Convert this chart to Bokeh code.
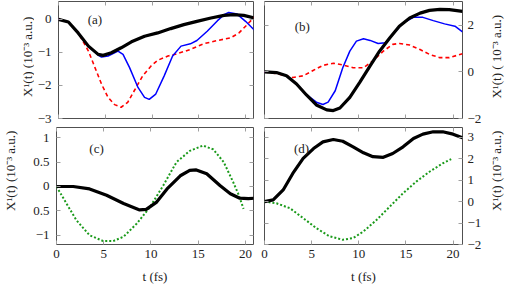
import math
from bokeh.plotting import figure
from bokeh.layouts import column, row
from bokeh.models import LinearAxis, Range1d, Label, FixedTicker
from bokeh.embed import file_html
from bokeh.resources import INLINE

# ---------------- data ----------------
# panel (a)
a_black_t = [0, 1.06, 2.1, 3.2, 4.24, 4.77, 5.65, 6.7, 7.8, 9.2, 10.6, 12.0, 13.4, 14.8, 16.3, 17.7, 18.7, 19.8, 21.0]
a_black_y = [0, -0.08, -0.41, -0.81, -1.06, -1.09, -1.01, -0.86, -0.68, -0.51, -0.41, -0.28, -0.16, -0.06, 0.04, 0.12, 0.14, 0.12, 0.04]
a_blue_t = [0, 1.06, 2.1, 3.2, 4.24, 4.6, 5.3, 6.36, 6.9, 7.6, 8.5, 9.2, 9.7, 10.4, 11.3, 12.2, 13.1, 14.1, 14.8, 15.9, 17.0, 17.7, 18.2, 19.1, 20.0, 21.0]
a_blue_y = [0, -0.08, -0.41, -0.82, -1.08, -1.14, -1.11, -0.96, -1.06, -1.46, -2.06, -2.36, -2.42, -2.26, -1.71, -1.11, -0.81, -0.74, -0.64, -0.36, -0.04, 0.14, 0.21, 0.16, -0.06, -0.34]
a_red_t = [0, 1.06, 2.1, 3.2, 3.9, 4.6, 5.3, 6.0, 6.7, 7.4, 8.1, 9.0, 9.9, 10.6, 11.7, 12.7, 14.1, 15.5, 17.0, 18.4, 19.3, 20.1, 21.0]
a_red_y = [0, -0.08, -0.40, -0.96, -1.46, -1.96, -2.36, -2.58, -2.66, -2.51, -2.16, -1.71, -1.41, -1.24, -1.11, -1.04, -0.91, -0.74, -0.64, -0.56, -0.41, -0.18, 0.09]

# panel (b)
b_black_t = [0, 1.27, 2.33, 3.4, 4.45, 5.5, 6.6, 7.3, 8.0, 9.05, 10.1, 11.2, 12.2, 13.3, 14.3, 15.4, 16.5, 17.5, 18.6, 19.6, 21.0]
b_black_y = [0, -0.03, -0.17, -0.52, -0.99, -1.42, -1.63, -1.66, -1.55, -1.09, -0.45, 0.26, 0.89, 1.46, 1.96, 2.31, 2.52, 2.64, 2.68, 2.67, 2.60]
b_blue_t = [0, 1.27, 2.33, 3.4, 4.45, 5.5, 6.2, 6.75, 7.5, 8.3, 9.05, 9.75, 10.5, 11.2, 12.05, 12.8, 13.6, 14.7, 15.8, 16.8, 17.9, 19.1, 20.2, 21.0]
b_blue_y = [0, -0.03, -0.17, -0.52, -0.97, -1.30, -1.40, -1.30, -0.81, 0.18, 0.89, 1.32, 1.42, 1.35, 1.22, 1.25, 1.60, 2.10, 2.34, 2.34, 2.20, 2.06, 1.96, 1.72]
b_red_t = [0, 1.6, 3.0, 4.1, 5.2, 6.2, 7.3, 8.3, 9.4, 10.5, 11.5, 12.6, 13.6, 14.3, 15.4, 16.5, 17.5, 18.6, 19.6, 21.0]
b_red_y = [0, -0.10, -0.24, -0.17, 0.07, 0.28, 0.37, 0.30, 0.18, 0.18, 0.47, 0.89, 1.18, 1.22, 1.15, 0.96, 0.75, 0.61, 0.61, 0.78]

# panel (c)
c_black_t = [0, 1.77, 3.5, 5.3, 7.1, 8.8, 9.5, 10.6, 11.7, 13.1, 14.1, 14.8, 15.9, 17.3, 18.4, 19.4, 20.3, 21.0]
c_black_y = [0, 0, -0.05, -0.18, -0.35, -0.48, -0.47, -0.32, -0.05, 0.22, 0.33, 0.34, 0.26, 0.02, -0.15, -0.24, -0.25, -0.24]
c_green_t = [0, 1.06, 2.1, 3.5, 4.95, 6.0, 7.1, 8.5, 9.9, 11.3, 12.7, 14.1, 15.5, 16.6, 17.7, 18.7, 19.3, 19.8]
c_green_y = [0, -0.35, -0.69, -1.0, -1.12, -1.12, -1.03, -0.76, -0.42, 0.02, 0.50, 0.73, 0.84, 0.76, 0.50, 0.09, -0.18, -0.46]

# panel (d)
d_black_t = [0, 0.92, 1.98, 3.0, 4.1, 5.2, 6.2, 7.3, 8.3, 9.4, 10.5, 11.5, 12.6, 13.6, 14.7, 15.8, 16.8, 17.9, 18.9, 20.0, 21.0]
d_black_y = [0, 0.08, 0.54, 1.31, 2.01, 2.47, 2.78, 2.89, 2.81, 2.55, 2.27, 2.09, 2.06, 2.24, 2.55, 2.94, 3.14, 3.25, 3.25, 3.14, 2.97]
d_green_t = [0, 1.27, 2.7, 4.1, 5.5, 6.9, 8.3, 9.4, 10.5, 11.9, 13.3, 14.7, 16.1, 17.5, 18.9, 19.8]
d_green_y = [0, -0.08, -0.31, -0.77, -1.24, -1.62, -1.78, -1.70, -1.39, -0.85, -0.23, 0.39, 0.93, 1.39, 1.78, 1.98]

x_ticks = [0, 5, 10, 15, 20]
a_yticks = [0, -1, -2, -3]
b_yticks = [-2, 0, 2]
c_yticks = [-1.0, -0.5, 0.0, 0.5, 1.0]
d_yticks = [-2, -1, 0, 1, 2, 3]
c_overrides = {-0.5: "0.5"}

ylabel = "X¹(t) (10⁻³ a.u.)"
ylabel_b = "X¹(t) ( 10⁻³ a.u.)"
xlabel = "t (fs)"

FONT = "Liberation Serif"
TICK_FS = "13px"
LAB_FS = "13px"
FRAME = "#505050"
TICKC = "#a0a0a0"
TXT = "#222222"

H_TOP, H_BOT = 126, 161


def style_axis(ax, ticks, show_labels, overrides=None):
    ax.ticker = FixedTicker(ticks=ticks)
    ax.major_tick_in = 4
    ax.major_tick_out = 0
    ax.minor_tick_in = 0
    ax.minor_tick_out = 0
    ax.axis_line_color = None
    ax.major_tick_line_color = TICKC
    ax.major_label_text_font = FONT
    ax.major_label_text_font_size = TICK_FS
    ax.major_label_text_color = TXT
    ax.axis_label_text_font = FONT
    ax.axis_label_text_font_size = LAB_FS
    ax.axis_label_text_font_style = "normal"
    ax.axis_label_text_color = TXT
    if overrides:
        ax.major_label_overrides = overrides
    if not show_labels:
        ax.major_label_text_font_size = "0px"
        ax.major_label_text_color = None
        ax.major_label_standoff = 0
        ax.axis_label = None


def make(w, h, xr, yr, left, right, top, bottom, y_side):
    p = figure(width=w, height=h, x_range=Range1d(*xr), y_range=Range1d(*yr),
               output_backend="svg", toolbar_location=None,
               x_axis_location="below", y_axis_location=y_side)
    p.min_border_left = left
    p.min_border_right = right
    p.min_border_top = top
    p.min_border_bottom = bottom
    p.xgrid.visible = False
    p.ygrid.visible = False
    p.outline_line_color = FRAME
    p.outline_line_width = 1
    p.background_fill_color = "white"
    p.border_fill_color = "white"
    return p


def title_strip(w, h, text, cx, cy_from_top):
    """Narrow strip holding a rotated y-axis title (reads bottom-to-top)."""
    s = figure(width=w, height=h, x_range=Range1d(0, w), y_range=Range1d(0, h),
               output_backend="svg", toolbar_location=None,
               x_axis_location=None, y_axis_location=None)
    s.min_border = 0
    s.min_border_left = 0
    s.min_border_right = 0
    s.min_border_top = 0
    s.min_border_bottom = 0
    s.xgrid.visible = False
    s.ygrid.visible = False
    s.outline_line_color = None
    s.background_fill_color = "white"
    s.border_fill_color = "white"
    s.add_layout(Label(x=cx, y=h - cy_from_top, text=text, angle=math.pi / 2,
                       text_align="center", text_baseline="middle",
                       text_font=FONT, text_font_size=LAB_FS, text_color=TXT))
    return s


def panel_tag(p, x, y, text):
    p.add_layout(Label(x=x, y=y, text=text, text_align="center", text_baseline="middle",
                       text_font=FONT, text_font_size="13px", text_color=TXT))


XR_L = (0, 20.85)
XR_R = (0, 21.0)
DASH_RED = "4 3"
DOT_GREEN = "2 2"

# ---- (a)
pa = make(224, H_TOP, XR_L, (-3, 0.54), 22, 5, 1, 8, "left")
pa.line(a_red_t, a_red_y, color="#ff0000", line_width=1.6, line_dash=DASH_RED)
pa.line(a_blue_t, a_blue_y, color="#0000ff", line_width=1.5)
pa.line(a_black_t, a_black_y, color="black", line_width=3.2)
style_axis(pa.xaxis[0], x_ticks, False)
style_axis(pa.yaxis[0], a_yticks, True)
pa.yaxis[0].major_label_standoff = 7
ax = LinearAxis(); style_axis(ax, x_ticks, False); pa.add_layout(ax, "above")
ax = LinearAxis(); style_axis(ax, a_yticks, False); pa.add_layout(ax, "right")
panel_tag(pa, 3.89, -0.01, "(a)")
ta = title_strip(34, H_TOP, ylabel, 27, 59.5)

# ---- (b)
pb = make(226, H_TOP, XR_R, (-2, 3.02), 6, 22, 1, 8, "right")
pb.line(b_red_t, b_red_y, color="#ff0000", line_width=1.6, line_dash=DASH_RED)
pb.line(b_blue_t, b_blue_y, color="#0000ff", line_width=1.5)
pb.line(b_black_t, b_black_y, color="black", line_width=3.2)
style_axis(pb.xaxis[0], x_ticks, False)
style_axis(pb.yaxis[0], b_yticks, True)
pb.yaxis[0].major_label_standoff = 5
ax = LinearAxis(); style_axis(ax, x_ticks, False); pb.add_layout(ax, "above")
ax = LinearAxis(); style_axis(ax, b_yticks, False); pb.add_layout(ax, "left")
panel_tag(pb, 4.0, 1.96, "(b)")
tb = title_strip(23, H_TOP, ylabel_b, 11.5, 59.5)

# ---- (c)
pc = make(232, H_BOT, XR_L, (-1.19, 1.21), 30, 5, 1, 43, "left")
pc.line(c_green_t, c_green_y, color="#1a9a1a", line_width=2.0, line_dash=DOT_GREEN)
pc.line(c_black_t, c_black_y, color="black", line_width=3.2)
style_axis(pc.xaxis[0], x_ticks, True)
pc.xaxis[0].axis_label = xlabel
pc.xaxis[0].major_label_standoff = 5
pc.xaxis[0].axis_label_standoff = 8
style_axis(pc.yaxis[0], c_yticks, True, c_overrides)
pc.yaxis[0].major_label_standoff = 7
ax = LinearAxis(); style_axis(ax, x_ticks, False); pc.add_layout(ax, "above")
ax = LinearAxis(); style_axis(ax, c_yticks, False); pc.add_layout(ax, "right")
panel_tag(pc, 4.24, 0.78, "(c)")
tc = title_strip(26, H_BOT, ylabel, 10, 59.5)

# ---- (d)
pd_ = make(226, H_BOT, XR_R, (-2.0, 3.45), 6, 22, 1, 43, "right")
pd_.line(d_green_t, d_green_y, color="#1a9a1a", line_width=2.0, line_dash=DOT_GREEN)
pd_.line(d_black_t, d_black_y, color="black", line_width=3.2)
style_axis(pd_.xaxis[0], x_ticks, True)
pd_.xaxis[0].axis_label = xlabel
pd_.xaxis[0].major_label_standoff = 5
pd_.xaxis[0].axis_label_standoff = 8
style_axis(pd_.yaxis[0], d_yticks, True)
pd_.yaxis[0].major_label_standoff = 5
ax = LinearAxis(); style_axis(ax, x_ticks, False); pd_.add_layout(ax, "above")
ax = LinearAxis(); style_axis(ax, d_yticks, False); pd_.add_layout(ax, "left")
panel_tag(pd_, 3.92, 2.47, "(d)")
td = title_strip(23, H_BOT, ylabel, 11.5, 59.5)

layout = column(row(ta, pa, pb, tb), row(tc, pc, pd_, td))

open("out.html", "w").write(file_html(layout, INLINE))
